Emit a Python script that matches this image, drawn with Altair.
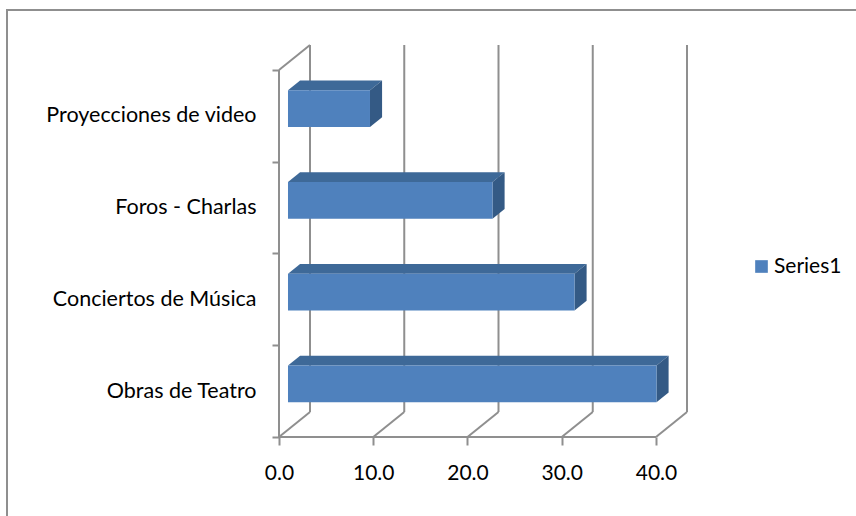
import altair as alt
import pandas as pd

# ---- data (bottom to top, as drawn) ----
categories = ["Obras de Teatro", "Conciertos de Música", "Foros - Charlas", "Proyecciones de video"]
values = [39.1, 30.4, 21.7, 8.7]
x_ticks = [0, 10, 20, 30, 40]
series_name = "Series1"

# ---- 3D geometry constants (in data units) ----
DX = 3.29      # depth offset along value axis
DY = 0.272     # depth offset along category axis
D0, D1 = 0.29, 0.68   # bar front / back depth fraction
BH = 0.2       # half bar height (band = 1)
NCAT = len(categories)
XMAX = max(x_ticks)

FONT = "Lato"
GRAY = "#8F8F8F"
FRONT = "#4F81BD"
TOP = "#3E6998"
SIDE = "#345A85"

front_rows, top_rows, side_rows = [], [], []
e, h = (D1 - D0) * DX, (D1 - D0) * DY
for i, (c, v) in enumerate(zip(categories, values)):
    x0 = D0 * DX
    x1 = x0 + v
    yb = i + 0.5 - BH + D0 * DY
    yt = i + 0.5 + BH + D0 * DY
    front_rows.append({"cat": c, "series": series_name, "x": x0, "x2": x1, "y": yb, "y2": yt})
    for k, (xx, ylo, yhi) in enumerate([(x0, yt, yt), (x0 + e, yt, yt + h), (x1, yt, yt + h), (x1 + e, yt + h, yt + h)]):
        top_rows.append({"cat": c, "k": k, "x": xx, "y": yhi, "y2": ylo})
    for k, (xx, ylo, yhi) in enumerate([(x1, yb, yt), (x1 + e, yb + h, yt + h)]):
        side_rows.append({"cat": c, "k": k, "x": xx, "y": yhi, "y2": ylo})

front_df = pd.DataFrame(front_rows)
top_df = pd.DataFrame(top_rows)
side_df = pd.DataFrame(side_rows)

seg = []
for t in x_ticks:
    seg.append({"x": t + DX, "x2": t + DX, "y": DY, "y2": NCAT + DY})   # back wall grid
    seg.append({"x": t, "x2": t + DX, "y": 0, "y2": DY})                # floor diagonals
seg.append({"x": 0, "x2": XMAX, "y": 0, "y2": 0})                       # front floor edge
seg.append({"x": 0, "x2": 0, "y": 0, "y2": NCAT})                       # front left edge
seg.append({"x": 0, "x2": DX, "y": NCAT, "y2": NCAT + DY})              # top diagonal of side wall
seg_df = pd.DataFrame(seg)

xs = alt.Scale(domain=[0, XMAX + DX], nice=False, zero=False)
ys = alt.Scale(domain=[0, NCAT + DY], nice=False, zero=False)

x_axis = alt.Axis(values=x_ticks, format=".1f", title=None, grid=False, domain=False,
                  tickSize=8, tickColor=GRAY, tickWidth=2, labelFlush=False,
                  labelFont=FONT, labelFontSize=21, labelColor="#000000", labelPadding=17)

half_vals = [i * 0.5 for i in range(2 * NCAT + 1)]
label_expr = " : ".join(
    [f"datum.value == {i + 0.5} ? '{c}'" for i, c in enumerate(categories)]
) + " : ''"
y_axis = alt.Axis(values=half_vals, labelExpr=label_expr, title=None, grid=False, domain=False,
                  tickSize=7, tickColor=GRAY, tickWidth=2,
                  tickOpacity={"condition": {"test": "datum.value % 1 == 0", "value": 1}, "value": 0},
                  labelOverlap=False, labelLimit=0, labelFont=FONT, labelFontSize=21.5,
                  labelColor="#000000", labelPadding=16)

X = alt.X("x:Q", scale=xs, axis=x_axis)
Y = alt.Y("y:Q", scale=ys, axis=y_axis)
YA = alt.Y("y:Q", scale=ys, axis=y_axis, stack=None)

grid = alt.Chart(seg_df).mark_rule(color=GRAY, strokeWidth=2).encode(
    x=X, x2="x2:Q", y=Y, y2="y2:Q"
)

top = alt.Chart(top_df).mark_area(orient="vertical", color=TOP, opacity=1).encode(
    x=X, y=YA, y2="y2:Q", detail="cat:N"
)
side = alt.Chart(side_df).mark_area(orient="vertical", color=SIDE, opacity=1).encode(
    x=X, y=YA, y2="y2:Q", detail="cat:N"
)
front = alt.Chart(front_df).mark_rect().encode(
    x=X, x2="x2:Q", y=Y, y2="y2:Q",
    color=alt.Color("series:N", scale=alt.Scale(domain=[series_name], range=[FRONT]),
                    legend=alt.Legend(orient="none", legendX=472, legendY=211, title=None,
                                      symbolType="square", symbolSize=160, symbolStrokeWidth=0,
                                      labelFont=FONT, labelFontSize=21, labelColor="#000000",
                                      labelOffset=2, padding=0)),
)

border = alt.Chart(pd.DataFrame({"a": [0]})).mark_rect(
    filled=False, stroke=GRAY, strokeWidth=2
).encode(x=alt.value(-272), x2=alt.value(600), y=alt.value(-35), y2=alt.value(500))

chart = alt.layer(border, grid, top, side, front).properties(
    width=408,
    height=392,
    autosize="none",
    padding={"left": 279, "top": 45, "right": 169, "bottom": 79},
    background="white",
).configure_view(stroke=None)

chart.save("out.html", embed_options={"renderer": "svg", "actions": False})
